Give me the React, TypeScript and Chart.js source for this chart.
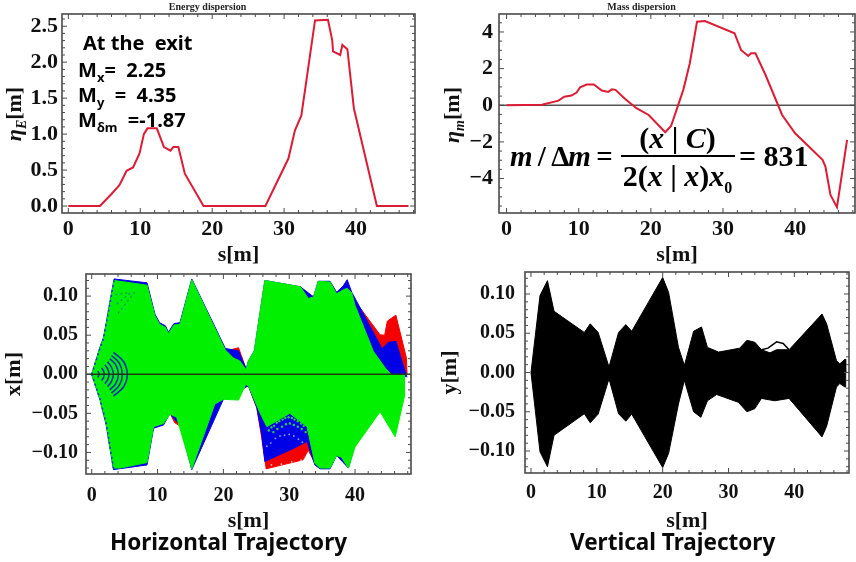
import React, { useEffect, useRef } from "react";
import { Chart, registerables } from "chart.js";

Chart.register(...registerables);

// Energy dispersion
const energyS = [0, 4.4, 6, 7.1, 8.1, 9, 9.9, 10.5, 11, 12.3, 13.3, 14.2, 14.6, 15.3, 16.2, 18.8, 27.4, 30.6, 31.5, 32.4, 34.3, 36.1, 36.7, 36.8, 37.8, 38.1, 38.8, 39.7, 42.9, 47.3];
const energyEta = [0, 0, 0.167, 0.29, 0.49, 0.537, 0.73, 1.0, 1.08, 1.08, 0.82, 0.77, 0.82, 0.82, 0.45, 0, 0, 0.66, 1.05, 1.26, 2.58, 2.59, 2.3, 2.15, 2.1, 2.24, 2.18, 1.36, 0, 0];

// Mass dispersion
const massS = [0, 4.9, 7.2, 8, 9, 9.7, 10.2, 11.1, 12.1, 13.2, 14.1, 14.6, 15.1, 16.4, 18, 19.7, 22, 22.8, 24.5, 25.4, 26.4, 27.5, 31.6, 32.5, 33.5, 33.9, 34.5, 35.9, 38.2, 40, 43.8, 44.2, 44.9, 45.8, 47.2];
const massEta = [0, 0.03, 0.25, 0.47, 0.53, 0.69, 0.98, 1.13, 1.13, 0.8, 0.73, 0.87, 0.84, 0.35, -0.16, -0.53, -1.47, -1.13, 0.84, 2.29, 4.56, 4.6, 3.93, 3.02, 2.69, 2.84, 2.84, 1.65, -0.53, -1.53, -2.98, -3.35, -4.9, -5.56, -1.89];

// Horizontal trajectory envelopes
const greenTopS = [0, 1.27, 1.8, 3.4, 8.4, 9.6, 10.3, 11.2, 11.65, 12.5, 13.4, 15.2, 20.3, 21.5, 22.5, 23.45, 23.8, 24.7, 26.3, 31.7, 32.9, 33.7, 34.4, 36.2, 37.2, 38.2, 38.8, 39.5, 40, 42.8, 44.6, 45.8, 46.6, 47.5];
const greenTopX = [0, 0.034, 0.046, 0.12, 0.114, 0.075, 0.064, 0.06, 0.052, 0.063, 0.064, 0.121, 0.031, 0.021, 0.017, 0.0058, 0.017, 0.03, 0.12, 0.112, 0.097, 0.099, 0.119, 0.118, 0.103, 0.108, 0.11, 0.104, 0.088, 0.029, 0.008, -0.0034, -0.006, -0.004];
const greenBotS = [0, 1.27, 2.2, 3.3, 4.3, 8.4, 9.4, 10.9, 11.9, 12.9, 15.2, 18.7, 20, 22.3, 23.4, 23.8, 25.6, 26.6, 30.1, 32.7, 33.9, 34.7, 36.2, 37.2, 37.9, 39, 40, 43.8, 46.1, 47.6];
const greenBotX = [0, -0.032, -0.063, -0.12, -0.12, -0.113, -0.067, -0.063, -0.051, -0.055, -0.121, -0.038, -0.032, -0.033, -0.013, -0.0148, -0.05, -0.067, -0.05, -0.067, -0.114, -0.12, -0.12, -0.104, -0.106, -0.12, -0.093, -0.048, -0.08, -0.025];
const blueTopS = [0, 1.27, 1.8, 3.4, 8.4, 9.6, 10.3, 11.2, 11.65, 12.5, 13.4, 15.2, 20.3, 22.3, 23.45, 23.8, 24.7, 26.3, 31.7, 33.7, 34.4, 36.2, 37.2, 38.2, 38.8, 39.5, 44.1, 45.1, 46.2, 47.6, 47.9];
const blueTopX = [0, 0.035, 0.047, 0.122, 0.117, 0.077, 0.066, 0.062, 0.054, 0.065, 0.066, 0.122, 0.033, 0.03, 0.0067, 0.017, 0.03, 0.12, 0.112, 0.099, 0.119, 0.119, 0.105, 0.113, 0.121, 0.105, 0.0328, 0.041, 0.042, 0.004, -0.004];
const blueBotS = [0, 1.27, 2.2, 3.3, 8.4, 9.4, 10.9, 11.9, 12.6, 13.4, 15.2, 20, 23.8, 25.07, 25.8, 26.3, 30.6, 32.7, 33.9, 34.7, 36.2, 37.2, 39, 40, 47.9];
const blueBotX = [0, -0.033, -0.065, -0.122, -0.116, -0.069, -0.065, -0.05, -0.058, -0.064, -0.122, -0.032, -0.0148, -0.042, -0.076, -0.1116, -0.095, -0.086, -0.116, -0.121, -0.121, -0.104, -0.12, -0.09, 0];
const redTopS = [0, 20, 21, 22.3, 23.45, 24.7, 26.3, 39.5, 39.9, 43.8, 44.5, 44.9, 46.2, 47.8, 47.9];
const redTopX = [0, 0.032, 0.031, 0.034, 0.007, 0.025, 0.1, 0.1, 0.0947, 0.0505, 0.05, 0.068, 0.0757, 0.021, 0];
const redBotS = [0, 11.9, 12.6, 13.4, 14, 20, 23.8, 25.07, 25.8, 26.5, 32.1, 32.9, 33.9, 47.9];
const redBotX = [0, -0.05, -0.062, -0.066, -0.07, -0.02, -0.0148, -0.043, -0.08, -0.121, -0.1095, -0.097, -0.114, 0];

// Speckle left by the individual rays
const greenDotS = [26.9, 27.3, 27.7, 28.1, 28.5, 29, 29.4, 29.9, 30.4, 30.8, 31.3, 31.8, 32.2, 27.6, 28.2, 28.9, 29.5, 30.1, 30.7, 31.3, 31.9, 32.5];
const greenDotX = [-0.072, -0.068, -0.066, -0.062, -0.06, -0.058, -0.056, -0.055, -0.056, -0.058, -0.06, -0.063, -0.066, -0.074, -0.07, -0.067, -0.064, -0.063, -0.065, -0.067, -0.07, -0.074];
const paleBlueDotS = [26.6, 27.2, 27.9, 28.6, 29.3, 30, 30.7, 31.4, 32];
const paleBlueDotX = [-0.092, -0.088, -0.082, -0.079, -0.078, -0.077, -0.079, -0.083, -0.087];
const paleRedDotS = [27.3, 28.8, 30.4, 31.8];
const paleRedDotX = [-0.116, -0.115, -0.112, -0.11];
const edgeDotS = [0, 1.27, 1.8, 3.4];
const edgeDotX = [0, 0.034, 0.046, 0.12];
const edgeDotLowS = [0, 1.27, 2.2, 3.3];
const edgeDotLowX = [0, -0.032, -0.063, -0.12];
const arcTipS = [5.4, 4.65, 4.05, 3.3, 2.63, 1.9, 1.1];
const arcMidS = [4.85, 4.2, 3.65, 3.0, 2.42, 1.78, 1.03];
const arcBackS = [3.3, 3.0, 2.75, 2.4, 2.0, 1.5, 0.9];
const arcHalfX = [0.028, 0.024, 0.02, 0.016, 0.012, 0.008, 0.004];
const arcMidX = [0.016, 0.014, 0.012, 0.009, 0.007, 0.0045, 0.0025];
const fanTipS = [5.4, 6.0, 6.6];
const fanEndS = [3.6, 3.8, 4.0];
const fanTipX = [0.104, 0.105, 0.106];
const fanEndX = [0.102, 0.09, 0.078];

// Vertical trajectory envelope
const vertTopS = [0, 1.37, 2.5, 3.5, 8.1, 9, 10.2, 11.85, 13.3, 14.4, 15.3, 20, 20.9, 22.4, 23.3, 24.7, 25.9, 26.8, 28.5, 31.7, 32.8, 34, 35, 36.3, 37.3, 39.2, 44.2, 44.9, 46.4, 46.9, 47.7, 47.8];
const vertTopY = [0, 0.098, 0.117, 0.078, 0.051, 0.062, 0.051, 0.007, 0.051, 0.061, 0.0525, 0.121, 0.102, 0.032, 0.009, 0.0525, 0.058, 0.032, 0.026, 0.031, 0.041, 0.0385, 0.029, 0.025, 0.029, 0.029, 0.0745, 0.062, 0.015, 0.011, 0.017, 0];
const vertBotS = [0, 1.37, 2.5, 3.5, 8.1, 9, 10.2, 11.85, 13.3, 14.4, 15.3, 20, 20.9, 22.4, 23.3, 24.7, 25.8, 26.8, 28.2, 31.5, 32.8, 34, 35, 37, 39.2, 44.2, 44.9, 46.4, 46.9, 47.7, 47.8];
const vertBotY = [0, -0.101, -0.12, -0.08, -0.0525, -0.064, -0.053, -0.008, -0.0525, -0.062, -0.053, -0.121, -0.103, -0.04, -0.01, -0.05, -0.057, -0.036, -0.028, -0.038, -0.05, -0.046, -0.033, -0.036, -0.033, -0.082, -0.0685, -0.0185, -0.014, -0.0186, 0];
const strayS = [35, 36, 37.3, 38.3, 39.2];
const strayY = [0.029, 0.031, 0.039, 0.037, 0.029];
const vertCentreS = [0, 47.8];
const vertCentreY = [0, 0];

// Axis ticks
const sTicks = [0, 10, 20, 30, 40];
const energyTicks = [0, 0.5, 1, 1.5, 2, 2.5];
const massTicks = [-4, -2, 0, 2, 4];
const trajTicks = [-0.1, -0.05, 0, 0.05, 0.1];

const SERIF = '"Liberation Serif", "Times New Roman", serif';
const SANS = '"Noto Sans", "Open Sans", sans-serif';
const RED = "#dc1c34";
const zip = (xs: number[], ys: number[]) => xs.map((x, i) => ({ x, y: ys[i] }));

const line = (data: any[], color: string, width = 2, extra: any = {}) => ({
  data, borderColor: color, borderWidth: width, pointRadius: 0, tension: 0, fill: false, ...extra,
});
const area = (data: any[], color: string, border = 1) => line(data, color, border, { backgroundColor: color, fill: { value: 0 } });
const dots = (data: any[], color: string, r = 0.9) => ({ data, showLine: false, pointRadius: r, pointBorderWidth: 0, pointBackgroundColor: color });

const frameTicks = {
  id: "frameTicks",
  afterDatasetsDraw(chart: any, _a: any, o: any) {
    const { ctx, chartArea: a, scales } = chart;
    ctx.save();
    ctx.strokeStyle = "#4a4a4a";
    ctx.lineWidth = 1;
    const isMajor = (v: number, list: number[]) => list.some((t) => Math.abs(t - v) < 1e-6);
    for (let i = Math.ceil(scales.x.min / o.xMinor); i * o.xMinor <= scales.x.max; i++) {
      const v = i * o.xMinor;
      const p = scales.x.getPixelForValue(v);
      const len = isMajor(v, o.xMajor) ? 5 : 3;
      ctx.beginPath();
      ctx.moveTo(p, a.bottom); ctx.lineTo(p, a.bottom - len);
      ctx.moveTo(p, a.top); ctx.lineTo(p, a.top + len);
      ctx.stroke();
    }
    for (let i = Math.ceil(scales.y.min / o.yMinor); i * o.yMinor <= scales.y.max; i++) {
      const v = i * o.yMinor;
      const p = scales.y.getPixelForValue(v);
      const len = isMajor(v, o.yMajor) ? 5 : 3;
      ctx.beginPath();
      ctx.moveTo(a.left, p); ctx.lineTo(a.left + len, p);
      ctx.moveTo(a.right, p); ctx.lineTo(a.right - len, p);
      ctx.stroke();
    }
    ctx.lineWidth = 1.6;
    ctx.strokeRect(a.left, a.top, a.right - a.left, a.bottom - a.top);
    ctx.restore();
  },
};

type Panel = {
  left: number; top: number; w: number; h: number;
  plot: [number, number, number, number];
  xRange: [number, number]; yRange: [number, number];
  yTicks: number[]; yMinor: number; digits: number;
  fontSize: number; xPad: number; yPad: number;
  title?: string; yTitle?: string; yTitlePad?: number; xTitlePad: number;
  datasets: any[];
};

const zeroLine = (r: [number, number], color: string, w: number) => line(zip(r, [0, 0]), color, w);

const arcs = arcTipS.map((_, i) =>
  line(
    zip(
      [arcBackS[i], arcMidS[i], arcTipS[i], arcMidS[i], arcBackS[i]],
      [arcHalfX[i], arcMidX[i], 0, -arcMidX[i], -arcHalfX[i]],
    ),
    "rgba(0,0,225,0.8)", 1.6, { tension: 0.4 },
  ),
);
const fans = fanTipS.map((_, i) =>
  line(zip([fanEndS[i], fanTipS[i]], [fanEndX[i], fanTipX[i]]), "rgba(0,60,200,0.55)", 1.2, { borderDash: [2, 3] }),
);
const edgeBlue = { borderDash: [2, 3] };

const horizRange: [number, number] = [-0.87, 48.5];
const massRange: [number, number] = [-1.05, 48.3];

const panels: Panel[] = [
  {
    left: 0, top: 0, w: 428, h: 270, plot: [62, 14, 415, 213],
    xRange: [-0.88, 48.2], yRange: [-0.097, 2.67], yTicks: energyTicks, yMinor: 0.1, digits: 1, fontSize: 22, xPad: 3, yPad: 4,
    title: "Energy dispersion", xTitlePad: 1,
    datasets: [line(zip(energyS, energyEta), RED)],
  },
  {
    left: 428, top: 0, w: 428, h: 270, plot: [71, 14, 427, 213],
    xRange: massRange, yRange: [-5.88, 4.98], yTicks: massTicks, yMinor: 0.5, digits: 0, fontSize: 22, xPad: 3, yPad: 6,
    title: "Mass dispersion", xTitlePad: 1,
    datasets: [line(zip(massS, massEta), RED), zeroLine(massRange, "#555555", 1.5)],
  },
  {
    left: 0, top: 270, w: 428, h: 292, plot: [86, 2, 411, 204],
    xRange: horizRange, yRange: [-0.1276, 0.1283], yTicks: trajTicks, yMinor: 0.01, digits: 2, fontSize: 20, xPad: 10, yPad: 8,
    yTitle: "x[m]", yTitlePad: 1, xTitlePad: 27,
    datasets: [
      zeroLine(horizRange, "#1c3a12", 1.5),
      ...arcs,
      ...fans,
      line(zip(edgeDotS, edgeDotX), "#1040c8", 1.6, edgeBlue),
      line(zip(edgeDotLowS, edgeDotLowX), "#1040c8", 1.6, edgeBlue),
      dots(zip(paleBlueDotS, paleBlueDotX), "#7fa8f0"),
      dots(zip(paleRedDotS, paleRedDotX), "#ffc0c0"),
      dots(zip(greenDotS, greenDotX), "#22d04a", 1.2),
      area(zip(greenTopS, greenTopX), "#00f000"),
      area(zip(greenBotS, greenBotX), "#00f000"),
      area(zip(blueTopS, blueTopX), "#0000e6"),
      area(zip(blueBotS, blueBotX), "#0000e6"),
      area(zip(redTopS, redTopX), "#f50000"),
      area(zip(redBotS, redBotX), "#f50000"),
    ],
  },
  {
    left: 428, top: 270, w: 428, h: 292, plot: [97, 2, 421, 203],
    xRange: [-0.91, 48.3], yRange: [-0.128, 0.128], yTicks: trajTicks, yMinor: 0.01, digits: 2, fontSize: 20, xPad: 8, yPad: 10,
    yTitle: "y[m]", yTitlePad: 9, xTitlePad: 27,
    datasets: [
      line(zip(vertCentreS, vertCentreY), "#000000", 2),
      line(zip(strayS, strayY), "#000000", 1.5),
      area(zip(vertTopS, vertTopY), "#000000"),
      area(zip(vertBotS, vertBotY), "#000000"),
    ],
  },
];

function PanelChart({ p }: { p: Panel }) {
  const ref = useRef<HTMLCanvasElement>(null);
  useEffect(() => {
    const [pl, pt, pr, pb] = p.plot;
    const zeroPad = (s: any) => {
      s.paddingTop = 0; s.paddingBottom = 0; s.paddingLeft = 0; s.paddingRight = 0;
    };
    const tickFont = { family: SERIF, size: p.fontSize, weight: "bold" as const };
    const chart = new Chart(ref.current as HTMLCanvasElement, {
      type: "line",
      data: { datasets: p.datasets },
      plugins: [frameTicks],
      options: {
        animation: false,
        responsive: false,
        parsing: false as any,
        normalized: false,
        layout: {
          padding: { left: 0, right: p.w - pr, top: p.title ? 2 : pt, bottom: 0 },
        },
        plugins: {
          legend: { display: false },
          tooltip: { enabled: false },
          title: {
            display: !!p.title,
            text: p.title || "",
            color: "#222222",
            font: { family: SERIF, size: 10, weight: "bold", lineHeight: 1 },
            padding: { top: 0, bottom: 2 },
          },
          frameTicks: { xMajor: sTicks, xMinor: 2, yMajor: p.yTicks, yMinor: p.yMinor },
        } as any,
        scales: {
          x: {
            type: "linear",
            min: p.xRange[0],
            max: p.xRange[1],
            grid: { display: false, drawTicks: false },
            border: { display: false },
            afterBuildTicks: (s: any) => { s.ticks = sTicks.map((value) => ({ value })); },
            afterFit: (s: any) => { s.height = p.h - pb; zeroPad(s); },
            ticks: {
              color: "#111111", font: tickFont, padding: p.xPad, maxRotation: 0, autoSkip: false,
              callback: (v: any) => String(v),
            },
            title: {
              display: true, text: "s[m]", color: "#111111",
              font: { family: SERIF, size: 22, weight: "bold" }, padding: p.xTitlePad,
            },
          },
          y: {
            type: "linear",
            min: p.yRange[0],
            max: p.yRange[1],
            grid: { display: false, drawTicks: false },
            border: { display: false },
            afterBuildTicks: (s: any) => { s.ticks = p.yTicks.map((value) => ({ value })); },
            afterFit: (s: any) => { s.width = pl; zeroPad(s); },
            ticks: {
              color: "#111111", font: tickFont, padding: p.yPad, autoSkip: false,
              callback: (v: any) => Number(v).toFixed(p.digits).replace("-", "\u2212"),
            },
            title: {
              display: !!p.yTitle, text: p.yTitle || "", color: "#111111",
              font: { family: SERIF, size: 22, weight: "bold" }, padding: p.yTitlePad || 0,
            },
          },
        },
      },
    } as any);
    return () => chart.destroy();
  }, [p]);
  return (
    <canvas
      ref={ref}
      width={p.w}
      height={p.h}
      style={{ position: "absolute", left: p.left, top: p.top, width: p.w, height: p.h, display: "block" }}
    />
  );
}

const abs = (left: number, top: number, extra: React.CSSProperties = {}): React.CSSProperties => ({
  position: "absolute", left, top, whiteSpace: "nowrap", lineHeight: 1, ...extra,
});
const note: React.CSSProperties = { fontFamily: SANS, fontWeight: 700, fontSize: 20, color: "#000" };
const eq: React.CSSProperties = { fontFamily: SERIF, fontWeight: 700, fontSize: 30, color: "#000" };
const caption: React.CSSProperties = { fontFamily: SANS, fontWeight: 700, fontSize: 22.5, color: "#0a0a0a" };
const yLabel = (cx: number, cy: number, sub: string) => (
  <div style={abs(cx - 50, cy - 12, {
    width: 100, height: 24, textAlign: "center", transform: "rotate(-90deg)",
    fontFamily: SERIF, fontWeight: 700, fontSize: 22, color: "#111", lineHeight: "24px",
  })}>
    <i>{"\u03B7"}<sub style={{ fontSize: 14 }}>{sub}</sub></i>[m]
  </div>
);

export default function App() {
  return (
    <div style={{ position: "absolute", left: 0, top: 0, width: 856, height: 562, background: "#fff", overflow: "hidden" }}>
      {panels.map((p, i) => <PanelChart key={i} p={p} />)}
      {yLabel(14, 114, "E")}
      {yLabel(452, 115, "m")}
      <div style={abs(83, 33, note)}>At the&nbsp;&nbsp;exit</div>
      <div style={abs(78, 60, note)}>M<sub style={{ fontSize: 13 }}>x</sub>=&nbsp;&nbsp;2.25</div>
      <div style={abs(78, 85, note)}>M<sub style={{ fontSize: 13 }}>y</sub>&nbsp;&nbsp;=&nbsp;&nbsp;4.35</div>
      <div style={abs(78, 110, note)}>M<sub style={{ fontSize: 13 }}>{"\u03B4m"}</sub>&nbsp;&nbsp;=-1.87</div>
      <div style={abs(510, 142, { ...eq, fontSize: 29, letterSpacing: -1 })}><i>m</i> / {"\u0394"}<i>m</i> =</div>
      <div style={abs(620, 123, { ...eq, width: 115, textAlign: "center" })}>(<i>x</i> | <i>C</i>)</div>
      <div style={abs(621, 155, { width: 114, height: 2, background: "#000" })} />
      <div style={abs(620, 161, { ...eq, width: 115, textAlign: "center" })}>2(<i>x</i> | <i>x</i>)<i>x</i><sub style={{ fontSize: 16 }}>0</sub></div>
      <div style={abs(739, 141, eq)}>= 831</div>
      <div style={abs(110, 531, caption)}>Horizontal Trajectory</div>
      <div style={abs(570, 531, caption)}>Vertical Trajectory</div>
    </div>
  );
}
